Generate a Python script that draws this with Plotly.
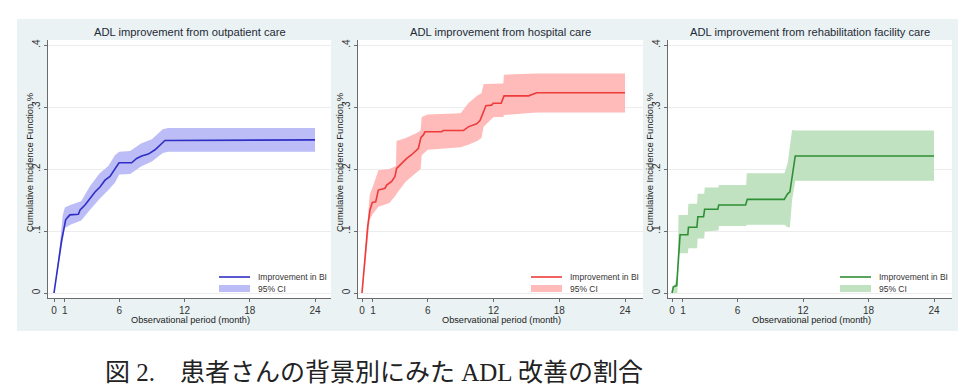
import plotly.graph_objects as go

W, H = 980, 391

# ---------------- data ----------------
titles = ["ADL improvement from outpatient care",
          "ADL improvement from hospital care",
          "ADL improvement from rehabilitation facility care"]
x_ticks = [0, 1, 6, 12, 18, 24]
y_ticks = [0, 0.1, 0.2, 0.3, 0.4]
y_tick_labels = ["0", ".1", ".2", ".3", ".4"]
line_name = "Improvement in BI"
ci_name = "95% CI"
x_title = "Observational period (month)"
y_title = "Cumulative Incidence Function,%"
caption = "図 2.\u3000患者さんの背景別にみた ADL 改善の割合"

# outpatient
out_x = [0, 0.2, 0.35, 0.46, 0.55, 0.7, 0.86, 1.07, 1.26, 1.46, 2.24, 2.4, 2.85, 3.31, 3.77,
         4.23, 4.69, 5.15, 5.46, 5.76, 5.98, 7.14, 7.6, 8.06, 8.67, 9.29, 9.75, 10.2, 24]
out_y = [0, 0.025, 0.045, 0.061, 0.064, 0.085, 0.099, 0.118, 0.122, 0.126, 0.127, 0.134, 0.142,
         0.153, 0.163, 0.171, 0.182, 0.188, 0.196, 0.204, 0.210, 0.210, 0.217, 0.221, 0.224,
         0.231, 0.239, 0.246, 0.247]
out_ci_x = [0, 0.5, 0.8, 1.0, 1.5, 2.5, 3.3, 4.2, 5.0, 5.6, 6.0, 7.0, 8.0, 9.0, 10.0, 10.5, 24]
out_ci_hi = [0, 0.07, 0.125, 0.138, 0.142, 0.148, 0.172, 0.193, 0.205, 0.222, 0.228, 0.229,
             0.241, 0.248, 0.264, 0.266, 0.266]
out_ci_lo = [0, 0.055, 0.09, 0.105, 0.110, 0.117, 0.134, 0.152, 0.166, 0.178, 0.191, 0.192,
             0.204, 0.212, 0.226, 0.228, 0.228]

# hospital
hos_x = [0, 0.27, 0.52, 0.73, 0.94, 1.25, 1.49, 2.1, 2.25, 2.71, 3.01, 3.16, 3.62, 4.08, 4.53,
         4.84, 5.14, 5.38, 5.6, 5.75, 7.27, 7.4, 9.25, 9.7, 10.46, 10.77, 11.07, 11.31, 11.83,
         11.98, 12.7, 12.96, 15.2, 15.94, 24]
hos_y = [0, 0.059, 0.107, 0.134, 0.146, 0.147, 0.166, 0.169, 0.174, 0.180, 0.188, 0.201, 0.209,
         0.217, 0.223, 0.228, 0.233, 0.251, 0.255, 0.260, 0.260, 0.262, 0.262, 0.268, 0.273,
         0.278, 0.292, 0.302, 0.303, 0.306, 0.306, 0.318, 0.318, 0.323, 0.323]
hos_ci_x = [0, 0.3, 0.7, 1.0, 1.5, 2.5, 3.1, 3.15, 4.0, 5.0, 5.35, 5.45, 6.0, 9.0, 9.7, 10.5,
            10.9, 11.1, 12.0, 12.9, 12.95, 15.9, 24]
hos_ci_hi = [0, 0.075, 0.158, 0.172, 0.198, 0.200, 0.205, 0.245, 0.250, 0.258, 0.262, 0.284,
             0.288, 0.290, 0.306, 0.318, 0.322, 0.337, 0.338, 0.338, 0.352, 0.354, 0.354]
hos_ci_lo = [0, 0.045, 0.118, 0.128, 0.139, 0.145, 0.158, 0.160, 0.180, 0.196, 0.200, 0.222,
             0.231, 0.235, 0.239, 0.245, 0.250, 0.268, 0.284, 0.284, 0.287, 0.291, 0.291]

# rehabilitation facility
reh_x = [0, 0.12, 0.43, 0.52, 0.74, 1.45, 1.51, 2.28, 2.37, 2.89, 2.99, 4.2, 4.28, 6.74, 6.9,
         10.28, 10.59, 10.8, 11.05, 11.29, 24]
reh_y = [0, 0.010, 0.012, 0.032, 0.094, 0.094, 0.106, 0.106, 0.123, 0.123, 0.135, 0.135, 0.142,
         0.142, 0.151, 0.151, 0.160, 0.163, 0.193, 0.221, 0.221]
reh_ci_x = [0, 0.5, 0.6, 1.45, 1.5, 2.3, 2.35, 2.95, 3.0, 4.25, 4.3, 6.8, 6.85, 10.3, 10.6,
            10.8, 11.0, 11.3, 24]
reh_ci_hi = [0, 0.029, 0.126, 0.126, 0.144, 0.144, 0.160, 0.160, 0.170, 0.170, 0.174, 0.174,
             0.193, 0.193, 0.21, 0.24, 0.263, 0.262, 0.262]
reh_ci_lo = [0, 0.0, 0.064, 0.064, 0.072, 0.072, 0.088, 0.088, 0.099, 0.101, 0.108, 0.108,
             0.110, 0.110, 0.106, 0.106, 0.15, 0.181, 0.181]

line_colors = ["#2f2fc4", "#ee3b3b", "#2f8f35"]
fill_colors = ["#bcbcf6", "#ffbaba", "#c0e2c0"]

series = [(out_x, out_y, out_ci_x, out_ci_lo, out_ci_hi),
          (hos_x, hos_y, hos_ci_x, hos_ci_lo, hos_ci_hi),
          (reh_x, reh_y, reh_ci_x, reh_ci_lo, reh_ci_hi)]

# ---------------- layout geometry (pixels) ----------------
panels = [  # plot-left, plot-right, x of 0, x of 24
    (48, 331, 54, 315),
    (358, 643, 362, 625),
    (668, 952, 672, 934),
]
plot_top, plot_bot, y0_px, y4_px = 40, 298, 293, 45


def px(x):
    return x / W


def py(y):
    return 1 - y / H


fig = go.Figure()
BG = "#eaf2f3"
FONT = "Liberation Sans, Arial, sans-serif"

fig.add_shape(type="rect", xref="paper", yref="paper", x0=px(17), x1=px(958), y0=py(331), y1=py(19),
              fillcolor=BG, line_width=0, layer="below")

for i, ((lx, ly, cx, clo, chi), (pl, pr, x0p, x24p)) in enumerate(zip(series, panels)):
    n = "" if i == 0 else str(i + 1)
    xa, ya = "x" + n, "y" + n
    sc = (x24p - x0p) / 24
    xr = [-(x0p - pl) / sc, 24 + (pr - x24p) / sc]
    ys = (y0_px - y4_px) / 0.4
    yr = [-(plot_bot - y0_px) / ys, 0.4 + (y4_px - plot_top) / ys]

    fig.add_trace(go.Scatter(x=cx, y=clo, mode="lines", line=dict(width=0, color=fill_colors[i]),
                             showlegend=False, hoverinfo="skip", xaxis=xa, yaxis=ya))
    fig.add_trace(go.Scatter(x=cx, y=chi, mode="lines", fill="tonexty", fillcolor=fill_colors[i],
                             line=dict(width=0, color=fill_colors[i]), name=ci_name,
                             showlegend=False, xaxis=xa, yaxis=ya))
    fig.add_trace(go.Scatter(x=lx, y=ly, mode="lines", line=dict(width=1.6, color=line_colors[i]),
                             name=line_name, showlegend=False, xaxis=xa, yaxis=ya))

    axis_common = dict(showline=True, linecolor="#6b6b6b", linewidth=1, ticks="outside",
                       ticklen=3, tickcolor="#6b6b6b", tickfont=dict(family=FONT, size=10, color="#333"),
                       zeroline=False)
    fig.layout["xaxis" + n] = dict(domain=[px(pl), px(pr)], range=xr, tickvals=x_ticks,
                                   showgrid=False, anchor=ya, **axis_common)
    fig.layout["yaxis" + n] = dict(domain=[py(plot_bot), py(plot_top)], range=yr, tickvals=y_ticks,
                                   ticktext=y_tick_labels, tickangle=-90, showgrid=True,
                                   gridcolor="#ececec", gridwidth=1, anchor=xa, **axis_common)

    # plot area white background
    fig.add_shape(type="rect", xref="paper", yref="paper", x0=px(pl), x1=px(pr), y0=py(plot_bot),
                  y1=py(plot_top), fillcolor="white", line_width=0, layer="below")

    # legend (drawn as keys + text to match the compact Stata legend)
    kx0, kx1, tx = pr - 112, pr - 81, pr - 75
    fig.add_shape(type="line", xref="paper", yref="paper", x0=px(kx0), x1=px(kx1),
                  y0=py(277), y1=py(277), line=dict(color=line_colors[i], width=1.6))
    fig.add_shape(type="rect", xref="paper", yref="paper", x0=px(kx0), x1=px(kx1),
                  y0=py(292), y1=py(285), fillcolor=fill_colors[i], line_width=0)
    fig.add_annotation(text=line_name, xref="paper", yref="paper", x=px(tx), y=py(277),
                       showarrow=False, xanchor="left", yanchor="middle",
                       font=dict(family=FONT, size=8.5, color="#333"))
    fig.add_annotation(text=ci_name, xref="paper", yref="paper", x=px(tx), y=py(288.5),
                       showarrow=False, xanchor="left", yanchor="middle",
                       font=dict(family=FONT, size=8.5, color="#333"))

    cx_mid = (pl + pr) / 2
    fig.add_annotation(text=titles[i], xref="paper", yref="paper", x=px(cx_mid), y=py(32),
                       showarrow=False, font=dict(family=FONT, size=11.2, color="#1f2a36"),
                       xanchor="center", yanchor="middle")
    fig.add_annotation(text=x_title, xref="paper", yref="paper", x=px(cx_mid + 1), y=py(320),
                       showarrow=False, font=dict(family=FONT, size=9.2, color="#222"),
                       xanchor="center", yanchor="middle")
    fig.add_annotation(text=y_title, xref="paper", yref="paper", x=px(pl - 18), y=py(163),
                       showarrow=False, textangle=-90, font=dict(family=FONT, size=9.4, color="#222"),
                       xanchor="center", yanchor="middle")

fig.add_annotation(text=caption, xref="paper", yref="paper", x=px(103), y=py(372),
                   showarrow=False, xanchor="left", yanchor="middle",
                   font=dict(family="Liberation Serif, Noto Sans CJK JP", size=25, color="#222"))

fig.update_layout(width=W, height=H, margin=dict(l=0, r=0, t=0, b=0),
                  paper_bgcolor="white", plot_bgcolor="rgba(0,0,0,0)", showlegend=False)

fig.write_html("out.html", config={"displayModeBar": False},
               post_script="document.body.style.margin='0px';")
